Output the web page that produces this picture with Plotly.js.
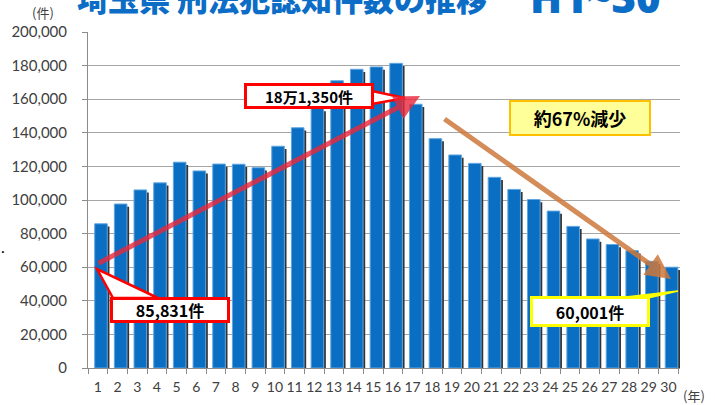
<!DOCTYPE html>
<html>
<head>
<meta charset="utf-8">
<script src="https://cdn.plot.ly/plotly-3.0.1.min.js"></script>
<style>html,body{margin:0;padding:0;background:#fff;}#chart{width:715px;height:405px;}</style>
</head>
<body>
<div id="chart"></div>
<script>
// Data
const years = ["1","2","3","4","5","6","7","8","9","10","11","12","13","14","15","16","17","18","19","20","21","22","23","24","25","26","27","28","29","30"];
const crimes = [85831, 97600, 106000, 110200, 122500, 117300, 121400, 121300, 119200, 132000, 143000, 154500, 171000, 177800, 179200, 181350, 157000, 136500, 126800, 121800, 113500, 106300, 100300, 93400, 84300, 76800, 73500, 69800, 63500, 60001];
const yTicks = [0, 20000, 40000, 60000, 80000, 100000, 120000, 140000, 160000, 180000, 200000];
const yTickText = ["0","20,000","40,000","60,000","80,000","100,000","120,000","140,000","160,000","180,000","200,000"];
const titleMain = "埼玉県 刑法犯認知件数の推移";
const titleSub = "H1~30";
const labelPeak = "18万1,350件";
const labelStart = "85,831件";
const labelEnd = "60,001件";
const labelDrop = "約67%減少";
const unitY = "(件)";
const unitX = "(年)";

// plot area geometry (pixels) for placing decorations
const L = 88, T = 32, W = 592, H = 336;
const px = x => (x - L) / W;
const py = y => (T + H - y) / H;
const cjk = "Noto Sans CJK JP";

const shadow = {
  type: 'bar', x: years, y: crimes, base: -1600,
  offset: -0.05, width: 0.64,
  marker: {color: '#333333', line: {width: 0}},
  hoverinfo: 'skip'
};
const bars = {
  type: 'bar', x: years, y: crimes,
  offset: -0.16, width: 0.64,
  marker: {color: '#0A6FC2', line: {color: '#5FA6E2', width: 1}}
};

function tri(pts){
  return 'M' + pts.map(p => px(p[0]) + ',' + py(p[1])).join(' L') + ' Z';
}

const layout = {
  width: 715, height: 405,
  margin: {l: L, r: 715 - L - W, t: T, b: 405 - T - H},
  paper_bgcolor: '#ffffff', plot_bgcolor: '#ffffff',
  showlegend: false, barmode: 'overlay',
  xaxis: {
    type: 'category', tickson: 'boundaries', ticks: 'outside', ticklen: 5, tickcolor: '#888888',
    showline: true, linecolor: '#8c8c8c', linewidth: 1, showgrid: false, tickangle: 0,
    tickfont: {family: 'Lato, "Noto Sans", sans-serif', size: 14, color: '#404040'},
    ticklabelstandoff: 6, fixedrange: true
  },
  yaxis: {
    range: [0, 200000], tickvals: yTicks, ticktext: yTickText,
    ticks: 'outside', ticklen: 5, tickcolor: '#8c8c8c',
    showline: true, linecolor: '#8c8c8c', linewidth: 1,
    showgrid: true, gridcolor: '#a6a6a6', gridwidth: 1, zeroline: false,
    tickfont: {family: 'Lato, "Noto Sans", sans-serif', size: 15, color: '#404040'},
    ticklabelstandoff: 12, fixedrange: true
  },
  shapes: [
    {type: 'path', xref: 'paper', yref: 'paper', path: tri([[97,269],[113,298],[158,298]]),
     fillcolor: '#ffffff', line: {color: '#ff0000', width: 2.5}, layer: 'above'},
    {type: 'path', xref: 'paper', yref: 'paper', path: tri([[372,91],[372,104],[405,98]]),
     fillcolor: '#ffffff', line: {color: '#ff0000', width: 2.5}, layer: 'above'},
    {type: 'path', xref: 'paper', yref: 'paper', path: tri([[617,298],[648,298],[678,291]]),
     fillcolor: '#ffff00', line: {color: '#ffff00', width: 1.5}, layer: 'above'}
  ],
  annotations: [
    // title (cut at top)
    {xref: 'paper', yref: 'paper', x: px(282), y: py(-2), xanchor: 'center', yanchor: 'middle',
     text: titleMain, showarrow: false,
     font: {family: cjk, size: 31, color: '#0B6DC6', weight: 900}},
    {xref: 'paper', yref: 'paper', x: px(595), y: py(-3), xanchor: 'center', yanchor: 'middle',
     text: titleSub, showarrow: false,
     font: {family: '"Noto Sans", sans-serif', size: 42, color: '#0B6DC6', weight: 900}},
    // units
    {xref: 'paper', yref: 'paper', x: px(43), y: py(13), xanchor: 'center', yanchor: 'middle',
     text: unitY, showarrow: false, font: {family: cjk, size: 13, color: '#404040'}},
    {xref: 'paper', yref: 'paper', x: px(694), y: py(395), xanchor: 'center', yanchor: 'middle',
     text: unitX, showarrow: false, font: {family: cjk, size: 13, color: '#404040'}},
    {xref: 'paper', yref: 'paper', x: px(3), y: py(246), xanchor: 'center', yanchor: 'middle',
     text: '.', showarrow: false, font: {family: 'Lato', size: 16, color: '#000'}},
    // red arrow
    {xref: 'paper', yref: 'paper', x: px(420), y: py(96), ax: 97 - 420, ay: 264 - 96,
     axref: 'pixel', ayref: 'pixel', text: '', showarrow: true,
     arrowhead: 2, arrowsize: 1, arrowwidth: 5, arrowcolor: 'rgba(235,40,60,0.8)'},
    // orange arrow
    {xref: 'paper', yref: 'paper', x: px(671), y: py(279), ax: 443 - 671, ay: 118 - 279,
     axref: 'pixel', ayref: 'pixel', text: '', showarrow: true,
     arrowhead: 2, arrowsize: 1, arrowwidth: 5, arrowcolor: 'rgba(205,120,60,0.85)'},
    // labels
    {xref: 'paper', yref: 'paper', x: px(308.5), y: py(96), xanchor: 'center', yanchor: 'middle',
     text: labelPeak, showarrow: false, width: 124, height: 20, borderpad: 0,
     bgcolor: '#ffffff', bordercolor: '#ff0000', borderwidth: 3,
     font: {family: cjk, size: 15, color: '#000', weight: 700}},
    {xref: 'paper', yref: 'paper', x: px(170), y: py(310), xanchor: 'center', yanchor: 'middle',
     text: labelStart, showarrow: false, width: 114, height: 20, borderpad: 0,
     bgcolor: '#ffffff', bordercolor: '#ff0000', borderwidth: 3,
     font: {family: cjk, size: 16, color: '#000', weight: 700}},
    {xref: 'paper', yref: 'paper', x: px(590), y: py(311.5), xanchor: 'center', yanchor: 'middle',
     text: labelEnd, showarrow: false, width: 114, height: 25, borderpad: 0,
     bgcolor: '#ffffff', bordercolor: '#ffff00', borderwidth: 3,
     font: {family: cjk, size: 16, color: '#000', weight: 700}},
    {xref: 'paper', yref: 'paper', x: px(580), y: py(118), xanchor: 'center', yanchor: 'middle',
     text: labelDrop, showarrow: false, width: 138, height: 32, borderpad: 0,
     bgcolor: '#FFFF99', bordercolor: '#FFC000', borderwidth: 2,
     font: {family: cjk, size: 18, color: '#000', weight: 700}}
  ]
};

Plotly.newPlot('chart', [shadow, bars], layout, {displayModeBar: false, staticPlot: true});
</script>
</body>
</html>
